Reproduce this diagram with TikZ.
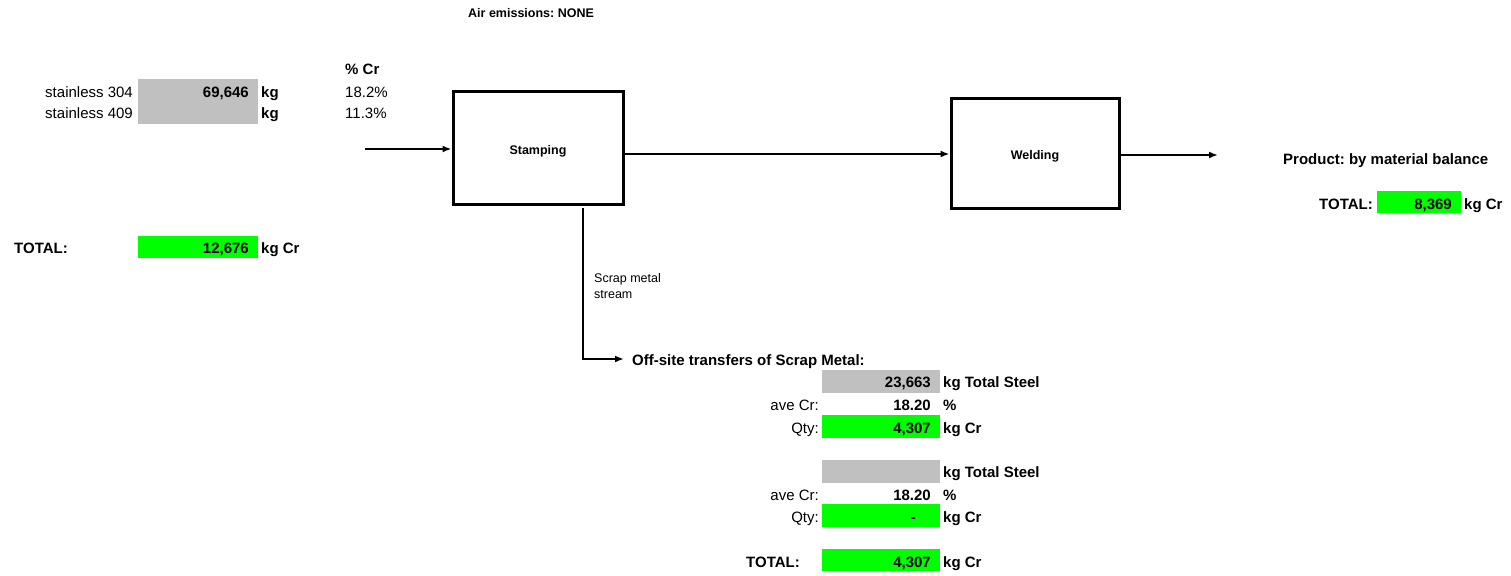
\documentclass[tikz,border=0pt]{standalone}
\usepackage{fontspec}
\setmainfont{Liberation Sans}
\usetikzlibrary{arrows.meta}
\definecolor{cgray}{HTML}{C0C0C0}
\definecolor{cgreen}{HTML}{00FF00}
\frenchspacing
\begin{document}
\begin{tikzpicture}[x=1pt,y=-1pt,
 lg/.style={font=\fontsize{15}{18}\selectfont\frenchspacing, inner sep=0},
 lgb/.style={font=\fontsize{15}{18}\selectfont\bfseries\frenchspacing, inner sep=0},
 sm/.style={font=\fontsize{12.5}{15}\selectfont\frenchspacing, inner sep=0},
 smb/.style={font=\fontsize{12.5}{15}\selectfont\bfseries\frenchspacing, inner sep=0},
 proc/.style={draw, line width=3pt, inner sep=0, text height=12pt, text depth=0pt, font=\fontsize{12.5}{15}\selectfont\bfseries},
 flow/.style={line width=2pt, -{Latex[length=9pt,width=7pt]}},
 graycell/.style={fill=cgray, inner sep=0, anchor=north west},
 greencell/.style={fill=cgreen, inner sep=0, anchor=north west}
]
\useasboundingbox (0,0) rectangle (1511,575);

% top label
\node[smb, anchor=base west] (air) at (468,18) {Air emissions: NONE};

% inputs
\node[graycell, minimum width=120, minimum height=45] (cin) at (138,79) {};
\node[lgb, anchor=base west] (pcr) at (345,75) {\% Cr};
\node[lg, anchor=base east] (s304) at (133,97.5) {stainless 304};
\node[lg, anchor=base east] (s409) at (133,119) {stainless 409};
\node[lgb, anchor=base east] (v304) at (249,97.5) {69,646};
\node[lgb, anchor=base west] (kg1) at (261,97.5) {kg};
\node[lgb, anchor=base west] (kg2) at (261,119) {kg};
\node[lg, anchor=base west] (p304) at (345,97.5) {18.2\%};
\node[lg, anchor=base west] (p409) at (345,119) {11.3\%};

\node[greencell, minimum width=120, minimum height=22] (ctot) at (138,236) {};
\node[lgb, anchor=base west] (totl) at (14,253.5) {TOTAL:};
\node[lgb, anchor=base east] (vtot) at (249,253.5) {12,676};
\node[lgb, anchor=base west] (ktot) at (261,253.5) {kg Cr};

% process boxes
\node[proc, minimum width=170, minimum height=112] (stamp) at (538,148) {Stamping};
\node[proc, minimum width=168, minimum height=109] (weld) at (1035,153.5) {Welding};

\coordinate (inp) at (365,149);
\coordinate (outp) at (1218,155);
\draw[flow] (inp) -- (inp -| stamp.west);
\draw[flow] (stamp.east |- 0,154) -- (weld.west |- 0,154);
\draw[flow] (weld.east |- outp) -- (outp);

% product
\node[lgb, anchor=base west] (prod) at (1283,164) {Product: by material balance};
\node[greencell, minimum width=84, minimum height=22] (cprod) at (1377,191) {};
\node[lgb, anchor=base east] (ptl) at (1373,209) {TOTAL:};
\node[lgb, anchor=base east] (pv) at (1452,209) {8,369};
\node[lgb, anchor=base west] (pk) at (1464,209) {kg Cr};

% scrap stream
\coordinate (scs) at (583,208);
\coordinate (sct) at (624,359);
\draw[flow] (scs) |- (sct);
\node[sm, anchor=base west] (sc1) at (594,282) {Scrap metal};
\node[sm, anchor=base west] (sc2) at (594,298) {stream};
\node[lgb, anchor=base west] (off) at (632,365) {Off-site transfers of Scrap Metal:};

% off-site table
\node[graycell, minimum width=118, minimum height=23] (g1) at (822,370) {};
\node[lgb, anchor=base east] (v1) at (931,387.5) {23,663};
\node[lgb, anchor=base west] (k1) at (943,387.5) {kg Total Steel};
\node[lg, anchor=base east] (a1) at (819,410) {ave Cr:};
\node[lgb, anchor=base east] (a1v) at (931,410) {18.20};
\node[lgb, anchor=base west] (a1p) at (943,410) {\%};
\node[greencell, minimum width=118, minimum height=23] (q1c) at (822,415) {};
\node[lg, anchor=base east] (q1) at (819,433) {Qty:};
\node[lgb, anchor=base east] (q1v) at (931,433) {4,307};
\node[lgb, anchor=base west] (q1k) at (943,433) {kg Cr};

\node[graycell, minimum width=118, minimum height=23] (g2) at (822,460) {};
\node[lgb, anchor=base west] (k2) at (943,477) {kg Total Steel};
\node[lg, anchor=base east] (a2) at (819,500) {ave Cr:};
\node[lgb, anchor=base east] (a2v) at (931,500) {18.20};
\node[lgb, anchor=base west] (a2p) at (943,500) {\%};
\node[greencell, minimum width=118, minimum height=23] (q2c) at (822,504) {};
\node[lg, anchor=base east] (q2) at (819,522) {Qty:};
\node[lgb, anchor=base east] (q2v) at (916,522) {-};
\node[lgb, anchor=base west] (q2k) at (943,522) {kg Cr};

\node[greencell, minimum width=118, minimum height=22] (tc) at (822,549) {};
\node[lgb, anchor=base west] (tl) at (746,567) {TOTAL:};
\node[lgb, anchor=base east] (tv) at (931,567) {4,307};
\node[lgb, anchor=base west] (tk) at (943,567) {kg Cr};
\end{tikzpicture}
\end{document}
